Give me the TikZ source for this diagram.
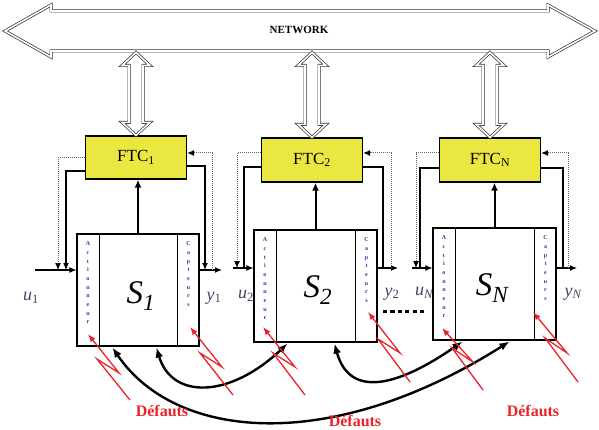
\documentclass[tikz,border=0pt]{standalone}
\usepackage{fontspec}
\setmainfont{Liberation Serif}
\usetikzlibrary{arrows.meta,calc}
\definecolor{ftcyellow}{RGB}{234,232,64}
\definecolor{faultred}{RGB}{235,35,40}
\definecolor{lblcol}{RGB}{70,66,100}
\definecolor{letcol}{RGB}{40,60,150}
\newcommand{\vdarr}[1]{%
  \draw[dbl] (#1.north) -- ++(-14,-13) -- ++(7,0) -- ($(#1.north |- ntop)+(-7,13)$) -- ++(-7,0)
    -- (#1.north |- ntop) -- ++(14,13) -- ++(-7,0) -- ($(#1.north)+(7,-13)$) -- ++(7,0) -- cycle;}
\begin{document}
\begin{tikzpicture}[x=1pt,y=-1pt,
  ftc/.style={draw, line width=1.3pt, fill=ftcyellow, minimum width=101pt, minimum height=43pt,
    font=\fontsize{17}{17}\selectfont, inner sep=0pt},
  sysbox/.style={draw, line width=1.1pt, fill=white, minimum width=123pt, minimum height=112pt, inner sep=0pt},
  sig/.style={line width=1.1pt, -{Latex[length=7pt,width=6pt]}},
  sigline/.style={line width=1.1pt},
  dotl/.style={line width=1pt, densely dotted, draw=black!60},
  dottip/.style={-{Latex[length=7pt,width=6pt,black]}},
  upar/.style={line width=2pt, -{Latex[length=8pt,width=7pt]}},
  curvar/.style={line width=2.4pt, {Latex[length=10pt,width=8pt]}-{Latex[length=10pt,width=8pt]}},
  fault/.style={draw=faultred, line width=1.3pt, -{Latex[length=8pt,width=6pt]}},
  dbl/.style={draw=black!80, line width=0.7pt, double=white, double distance=1.6pt, fill=white, line join=miter},
  lettxt/.style={text=letcol, font=\fontsize{6}{8.7}\selectfont\bfseries, align=center, inner sep=0pt, anchor=north},
  iolab/.style={text=lblcol, font=\fontsize{18}{18}\selectfont\itshape},
  slab/.style={font=\fontsize{33}{33}\selectfont\itshape},
  deflab/.style={text=faultred, font=\fontsize{16}{16}\selectfont\bfseries}
]
\useasboundingbox (0,0) rectangle (599,430);

% Network
\path[dbl] (5,31) -- (51,5) -- (51,11) -- (548,11) -- (548,5) -- (595,31) -- (548,57) -- (548,51)
  -- (51,51) -- (51,57) -- cycle;
\node[font=\fontsize{11}{11}\selectfont\bfseries] (net) at (299,30) {NETWORK};
\coordinate (ntop) at (0,52.5);

% FTC blocks
\node[ftc] (f1) at (136,157.5) {FTC\textsubscript{1}};
\node[ftc, minimum height=44pt] (f2) at (312,160) {FTC\textsubscript{2}};
\node[ftc, minimum height=44pt] (fN) at (490,160) {FTC\textsubscript{N}};

\vdarr{f1}
\vdarr{f2}
\vdarr{fN}

% Systems
\node[sysbox, minimum width=122pt] (s1) at (138,290) {};
\node[sysbox] (s2) at (315.5,286) {};
\node[sysbox] (sN) at (494.5,284) {};
\foreach \s in {s1,s2,sN}{
  \draw[line width=0.9pt] ([xshift=23pt]\s.north west) -- ([xshift=23pt]\s.south west);
  \draw[line width=0.9pt] ([xshift=-22pt]\s.north east) -- ([xshift=-22pt]\s.south east);
  \node[lettxt] at ($(\s.north west)+(11.5,8)$) {A\\c\\t\\i\\o\\n\\n\\e\\u\\r};
  \node[lettxt] at ($(\s.north east)+(-11,8)$) {C\\a\\p\\t\\e\\u\\r\\s};
}
\node[slab] (l1) at (141,296) {S\textsubscript{1}};
\node[slab] (l2) at (318,290) {S\textsubscript{2}};
\node[slab] (lN) at (492,288) {S\textsubscript{N}};

% S -> FTC
\draw[upar] (s1.north) -- (s1.north |- f1.south);
\draw[upar] (s2.north) -- (s2.north |- f2.south);
\draw[upar] (sN.north) -- (sN.north |- fN.south);

% Block 1 I/O
\coordinate (i1) at (35,270); \coordinate (o1) at (222,270);
\coordinate (dl1) at (58,270); \coordinate (sl1) at (66,270);
\coordinate (dr1) at (212,270); \coordinate (sr1) at (205,270);
\draw[sig] (i1) -- (i1 -| s1.west);
\draw[sig] (o1 -| s1.east) -- (o1);
\draw[dotl,dottip] (f1.west) -| (dl1);
\draw[sig] ([yshift=-13.5pt]f1.west) -| (sl1);
\draw[dotl,dottip] (dr1) |- ([yshift=4.5pt]f1.east);
\draw[sig] ([yshift=-8.5pt]f1.east) -| (sr1);

% Block 2 I/O
\coordinate (i2) at (233,268); \coordinate (o2) at (398,268);
\coordinate (dl2) at (237,268); \coordinate (sl2) at (244,268);
\coordinate (dr2) at (391,268); \coordinate (sr2) at (383,268);
\draw[sig] (i2) -- (i2 -| s2.west);
\draw[sig] (o2 -| s2.east) -- (o2);
\draw[dotl,dottip] ([yshift=7pt]f2.west) -| (dl2);
\draw[sigline] ([yshift=-7pt]f2.west) -| (sl2);
\draw[dotl,dottip] (dr2) |- ([yshift=7pt]f2.east);
\draw[sigline] ([yshift=-7pt]f2.east) -| (sr2);

% Block N I/O
\coordinate (i3) at (412,268); \coordinate (o3) at (577,268);
\coordinate (dl3) at (416,268); \coordinate (sl3) at (420,268);
\coordinate (dr3) at (568,268); \coordinate (sr3) at (563,268);
\draw[sig] (i3) -- (i3 -| sN.west);
\draw[sig] (o3 -| sN.east) -- (o3);
\draw[dotl,dottip] ([yshift=7pt]fN.west) -| (dl3);
\draw[sigline] ([yshift=-8pt]fN.west) -| (sl3);
\draw[dotl,dottip] (dr3) |- ([yshift=7pt]fN.east);
\draw[sigline] ([yshift=-8pt]fN.east) -| (sr3);

% I/O labels
\node[iolab] (u1) at (31,298) {u\textsubscript{\upshape 1}};
\node[iolab] (y1) at (214,298) {y\textsubscript{\upshape 1}};
\node[iolab] (u2) at (246,296) {u\textsubscript{\upshape 2}};
\node[iolab] (y2) at (392,294) {y\textsubscript{\upshape 2}};
\node[iolab] (uN) at (424,293) {u\textsubscript{N}};
\node[iolab] (yN) at (573,294) {y\textsubscript{N}};

% dots
\draw[line width=3pt, dash pattern=on 4.2pt off 3.2pt] (383,311) -- (426,311);

% interaction curves
\coordinate (c1a) at ($(s1.south west)+(36,1)$);
\coordinate (c1b) at ($(s1.south west)+(80,1)$);
\coordinate (c2a) at ($(s2.south west)+(34,1)$);
\coordinate (c2b) at ($(s2.south west)+(81,1)$);
\coordinate (cNa) at ($(sN.south west)+(30,1)$);
\coordinate (cNb) at ($(sN.south west)+(77,1)$);
\draw[curvar] (c1b) .. controls (172,400) and (230,398) .. (c2a);
\draw[curvar] (c1a) .. controls (175,440) and (330,455) .. (cNb);
\draw[curvar] (c2b) .. controls (350,400) and (400,385) .. (cNa);

% faults
\draw[fault] (130,400) -- (97,359) -- (119,373) -- (88,334);
\draw[fault] (233,395) -- (200,353) -- (222,367) -- (190,327);
\draw[fault] (305,395) -- (273,353) -- (295,367) -- (263,327);
\draw[fault] (410,382) -- (378,339) -- (400,353) -- (368,312);
\draw[fault] (483,390) -- (452,348) -- (473,362) -- (442,328);
\draw[fault] (578,382) -- (545,338) -- (567,353) -- (533,312);

\node[deflab] (d1) at (162,411) {Défauts};
\node[deflab] (d2) at (355,421) {Défauts};
\node[deflab] (d3) at (533,411) {Défauts};
\end{tikzpicture}
\end{document}
